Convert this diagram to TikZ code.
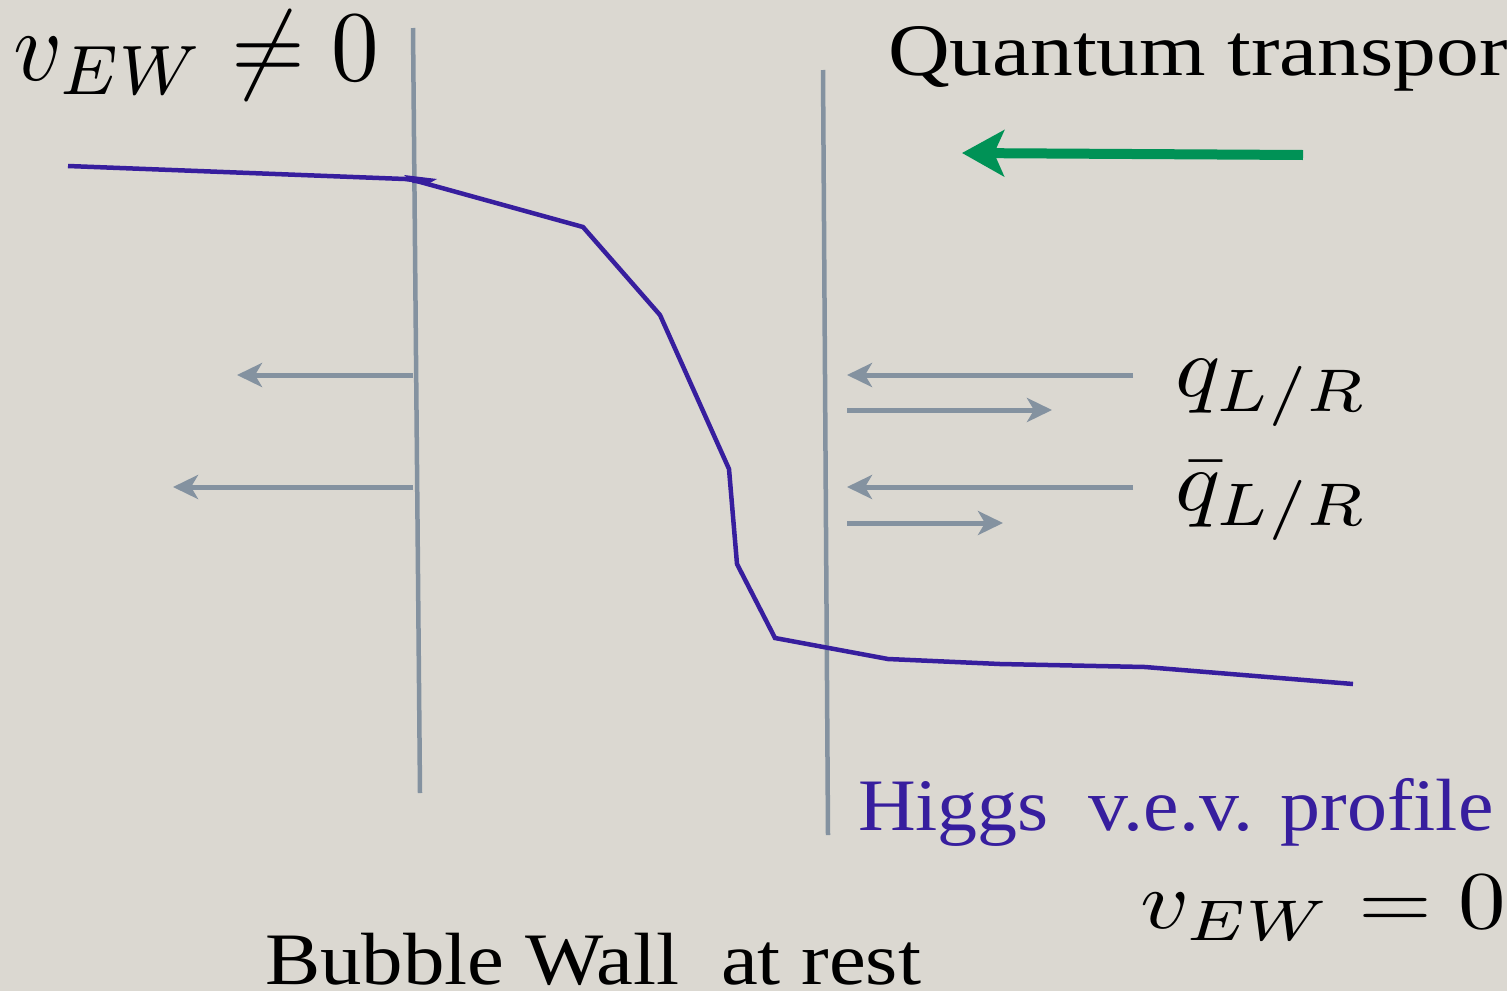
\documentclass[tikz,border=0pt]{standalone}
\usepackage[no-math]{fontspec}
\setmainfont{Liberation Serif}
\usepackage{graphicx}
\usetikzlibrary{arrows.meta}
\definecolor{bg}{RGB}{219,216,209}
\definecolor{wallgray}{RGB}{132,146,160}
\definecolor{higgs}{RGB}{55,30,158}
\definecolor{qgreen}{RGB}{0,146,86}
\begin{document}
\begin{tikzpicture}[x=1pt,y=-1pt,
  wall/.style={wallgray, line width=4.5pt},
  flux/.style={wallgray, line width=5pt, -{Stealth[length=25pt,width=24pt,inset=7pt]}},
  transport/.style={qgreen, line width=10pt, -{Stealth[length=42pt,width=46pt,inset=10pt]}},
  profile/.style={higgs, line width=4.5pt, line join=miter},
  lbl/.style={anchor=base west, inner sep=0pt, outer sep=0pt},
  serif/.style={font=\fontsize{74}{80}\selectfont}
]
\fill[bg] (0,0) rectangle (1507,991);
\useasboundingbox (0,0) rectangle (1507,991);

% walls
\coordinate (w1t) at (413,28);
\coordinate (w1b) at (420,793);
\coordinate (w2t) at (823,70);
\coordinate (w2b) at (828,835);
\draw[wall] (w1t) -- (w1b);
\draw[wall] (w2t) -- (w2b);

% higgs profile
\draw[profile] (68,166) -- (405,179) -- (413,180) -- (583,227) -- (660,315) -- (729,469)
  -- (737,564) -- (775,638) -- (888,659) -- (1000,664) -- (1145,667) -- (1353,684);
\fill[higgs] (404,175) -- (437,179) -- (428,184) -- (413,183) -- cycle;

% flux arrows left
\coordinate (l1s) at (413,375); \coordinate (l1e) at (237,375);
\coordinate (l2s) at (413,487); \coordinate (l2e) at (173,487);
\draw[flux] (l1s) -- (l1e);
\draw[flux] (l2s) -- (l2e);

% flux arrows right
\coordinate (r1s) at (1133,375); \coordinate (r1e) at (847,375);
\coordinate (r2s) at (847,410);  \coordinate (r2e) at (1052,410);
\coordinate (r3s) at (1133,487); \coordinate (r3e) at (847,487);
\coordinate (r4s) at (847,523);  \coordinate (r4e) at (1003,523);
\draw[flux] (r1s) -- (r1e);
\draw[flux] (r2s) -- (r2e);
\draw[flux] (r3s) -- (r3e);
\draw[flux] (r4s) -- (r4e);

% transport arrow
\coordinate (gs) at (1303,155); \coordinate (ge) at (962,153);
\draw[transport] (gs) -- (ge);

% labels
\node[lbl] (vneq) at (13,80) {\scalebox{9.5}[10]{$v_{EW}\neq 0$}};
\node[lbl] (veq) at (1140,928) {\scalebox{9.5}[8.2]{$v_{EW}=0$}};
\node[lbl] (q) at (1175,396) {\scalebox{9.4}[8.6]{$q_{L/R}$}};
\node[lbl] (qbar) at (1175,510) {\scalebox{9.4}[8.6]{$\bar q_{L/R}$}};
\node[lbl, serif] (quantum) at (888,75) {\scalebox{1.155}[1]{Quantum transpor}};
\node[lbl, serif, text=higgs] (higgslbl) at (858,830) {\scalebox{1.08}[1]{Higgs\ \ v.e.v. profile}};
\node[lbl, serif] (bubble) at (265,984) {\scalebox{1.12}[1]{Bubble Wall\ \ at rest}};
\end{tikzpicture}
\end{document}
